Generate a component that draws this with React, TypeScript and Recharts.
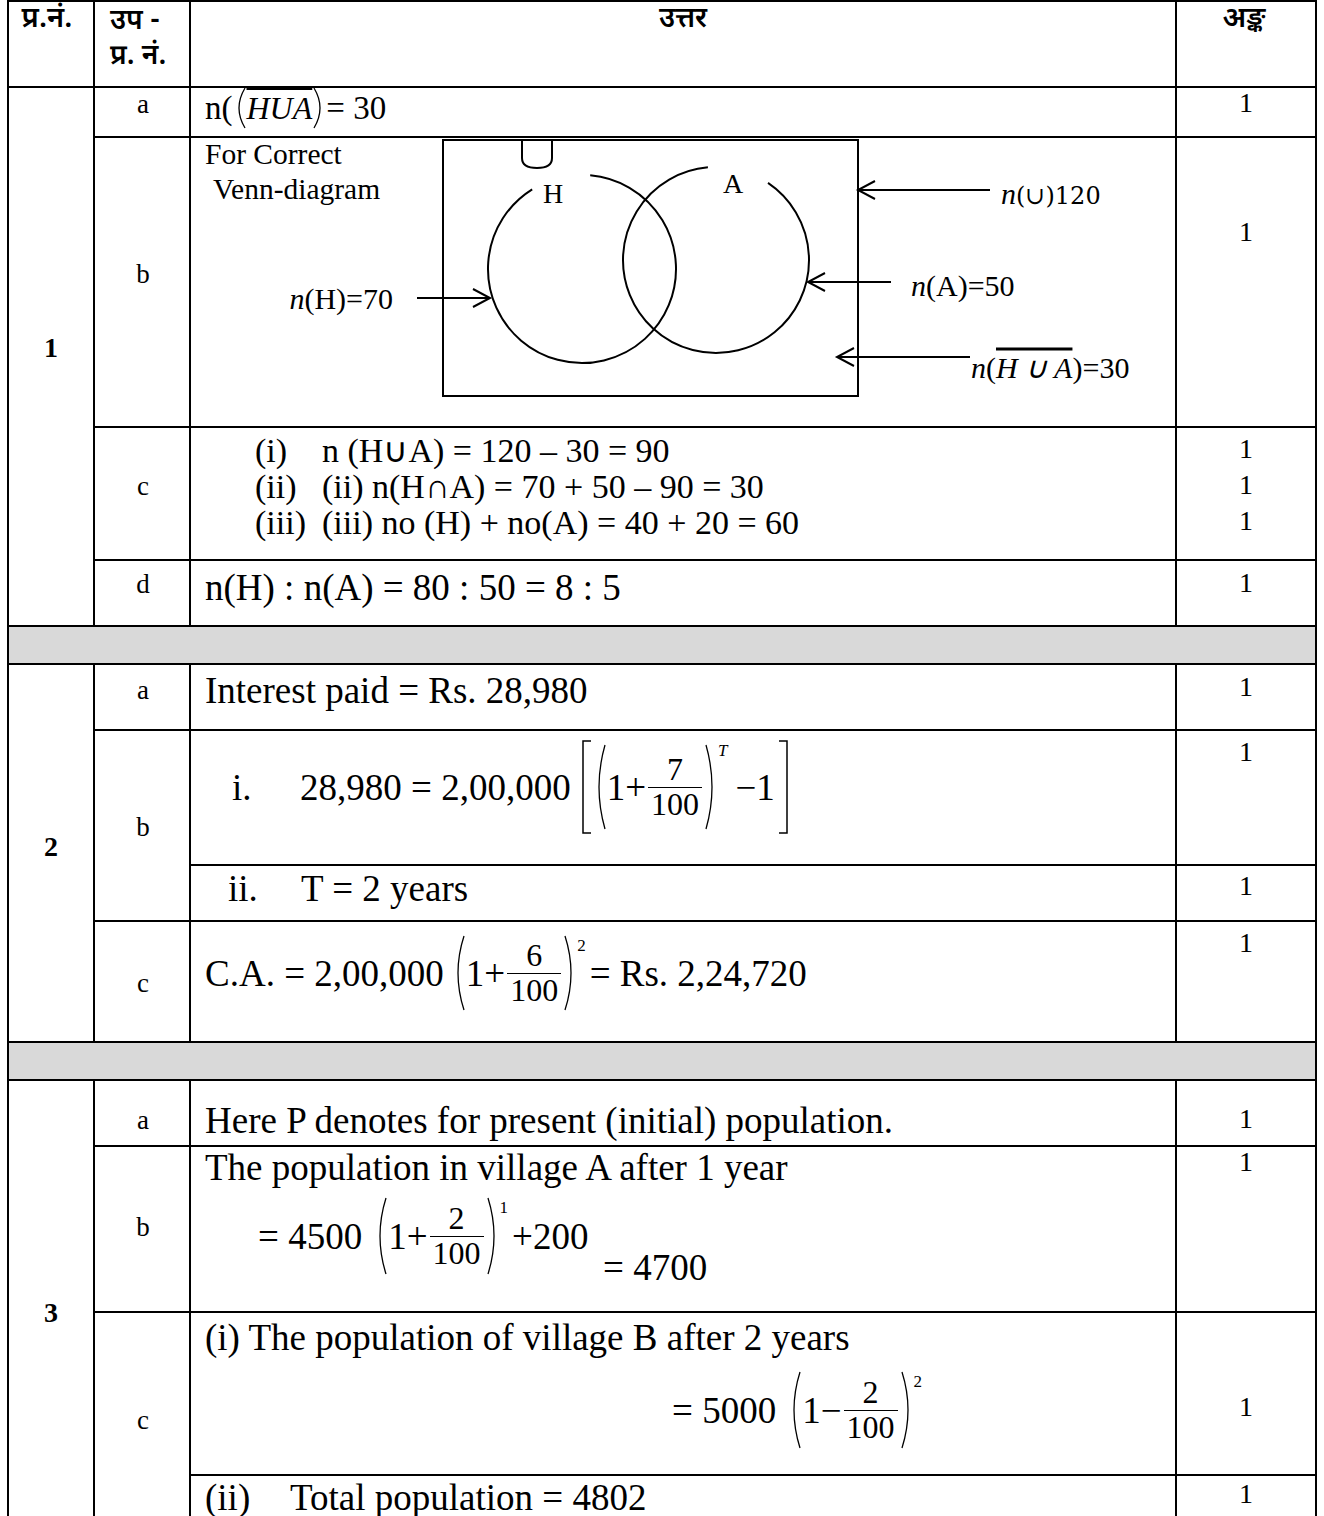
import React from "react";
import {
  ComposedChart,
  XAxis,
  YAxis,
  Scatter,
  ReferenceArea,
  ReferenceDot,
  ReferenceLine,
} from "recharts";

const SERIF = '"Liberation Serif", "Times New Roman", serif';
const DEVA = '"Noto Sans Devanagari", "Lohit Devanagari", "Mangal", "Noto Sans", sans-serif';

// header texts
const HEAD_Q = "प्र.नं.";
const HEAD_SUB = ["उप -", "प्र. नं."];
const HEAD_ANSWER = "उत्तर";
const HEAD_MARKS = "अङ्क";

const QUESTION_NUMBERS = ["1", "2", "3"];
const SUB_PARTS = ["a", "b", "c", "d", "a", "b", "c", "a", "b", "c"];
const MARKS = [1, 1, 1, 1, 1, 1, 1, 1, 1, 1, 1, 1, 1, 1];

// answer texts
const Q1C_LABELS = ["(i)", "(ii)", "(iii)"];
const Q1C_LINES = [
  "n (H∪A) = 120 – 30 = 90",
  "(ii) n(H∩A) = 70 + 50 – 90 = 30",
  "(iii) no (H) + no(A) = 40 + 20 = 60",
];
const Q1D_LINE = "n(H) : n(A) = 80 : 50 = 8 : 5";
const Q2A_LINE = "Interest paid = Rs. 28,980";
const Q2B_ROMAN = ["i.", "ii."];
const Q2B_II_LINE = "T = 2 years";
const Q3A_LINE = "Here P denotes for present (initial) population.";
const Q3B_LINE = "The population in village A after 1 year";
const Q3C_LINE = "(i) The population of village B after 2 years";
const Q3C_II = ["(ii)", "Total population = 4802"];

// formula values
const PRINCIPAL = "2,00,000";
const INTEREST = "28,980";
const RATES = [7, 6];
const AMOUNT = "Rs. 2,24,720";
const POP_A = 4500;
const POP_B = 5000;
const GROWTH = 2;
const MIGRATION = 200;
const POP_A_RESULT = 4700;

// Venn counts
const VENN_SETS = ["H", "A"];
const N_UNIVERSE = 120;
const N_H = 70;
const N_A = 50;
const N_NEITHER = 30;

// ---- layout ----
const XL = 8;
const XC1 = 94;
const XC2 = 190;
const XC3 = 1176;
const XR = 1316;
const H_LINES: [number, number, number][] = [
  [1, XL, XR], [87, XL, XR], [137, XC1, XR], [427, XC1, XR], [560, XC1, XR],
  [626, XL, XR], [664, XL, XR], [730, XC1, XR], [865, XC2, XR], [921, XC1, XR],
  [1042, XL, XR], [1080, XL, XR], [1146, XC1, XR], [1312, XC1, XR], [1475, XC2, XR],
];
const V_SEGS: [number, number][] = [[1, 626], [664, 1042], [1080, 1520]];
const GRAY_BANDS: [number, number][] = [[626, 664], [1042, 1080]];
const SUB_Y = [104, 274, 486, 584, 690, 827, 983, 1120, 1227, 1420];
const QNUM_Y = [348, 847, 1313];
const MARK_Y = [103, 232, 449, 485, 521, 583, 687, 752, 886, 943, 1119, 1162, 1407, 1494];

const Abs = ({ x, y, size = 37, align = "left", font = SERIF, style = {}, children }: any) => (
  <div
    style={{
      position: "absolute",
      left: x,
      top: y,
      transform: `translate(${align === "center" ? "-50%" : "0"}, -50%)`,
      fontFamily: font,
      fontSize: size,
      lineHeight: 1,
      whiteSpace: "nowrap",
      display: "flex",
      alignItems: "center",
      ...style,
    }}
  >
    {children}
  </div>
);

const Paren = ({ side, h = 76 }: { side: "l" | "r"; h?: number }) => (
  <svg width={14} height={h} style={{ display: "block" }}>
    <path
      d={side === "l" ? `M12 1 Q0 ${h / 2} 12 ${h - 1}` : `M2 1 Q14 ${h / 2} 2 ${h - 1}`}
      fill="none"
      stroke="#000"
      strokeWidth={1.3}
    />
  </svg>
);

const Bracket = ({ side, h = 94 }: { side: "l" | "r"; h?: number }) => (
  <svg width={12} height={h} style={{ display: "block" }}>
    <path
      d={side === "l" ? `M10 1 H2 V${h - 1} H10` : `M2 1 H10 V${h - 1} H2`}
      fill="none"
      stroke="#000"
      strokeWidth={1.5}
    />
  </svg>
);

const Frac = ({ num, den, size = 32 }: any) => (
  <span
    style={{
      display: "inline-flex",
      flexDirection: "column",
      alignItems: "center",
      fontSize: size,
      lineHeight: 1.05,
      margin: "0 2px",
    }}
  >
    <span style={{ padding: "0 3px" }}>{num}</span>
    <span style={{ alignSelf: "stretch", borderTop: "1.5px solid #000" }} />
    <span style={{ padding: "0 3px" }}>{den}</span>
  </span>
);

const Sup = ({ children, italic = false }: any) => (
  <span style={{ alignSelf: "flex-start", fontSize: 17, marginTop: 2, fontStyle: italic ? "italic" : "normal" }}>
    {children}
  </span>
);

// ---- Venn diagram (drawn with recharts scales, 1 unit = 1px in the cell) ----
const VW = 985;
const VH = 290;
const UNIVERSE = { x1: 252, x2: 667, y1: 3, y2: 259 };
const CIRCLES = [
  { cx: 391, cy: 132, r: 94, gap: [85, 122] },
  { cx: 525, cy: 123, r: 93, gap: [56, 95] },
];
const SET_LABEL_POS = [
  { x: 362, y: 56 },
  { x: 542, y: 46 },
];
const ARROWS = [
  { from: { x: 799, y: 53 }, to: { x: 667, y: 53 } },
  { from: { x: 700, y: 145 }, to: { x: 617, y: 145 } },
  { from: { x: 779, y: 220 }, to: { x: 646, y: 220 } },
  { from: { x: 226, y: 161 }, to: { x: 299, y: 161 } },
];
const ARROW_LABEL_POS = [
  { x: 810, y: 56, anchor: "start" },
  { x: 720, y: 148, anchor: "start" },
  { x: 780, y: 230, anchor: "start" },
  { x: 202, y: 161, anchor: "end" },
];

function arcPath(cx: number, cy: number, r: number, gapFrom: number, gapTo: number) {
  const a0 = (gapTo * Math.PI) / 180;
  const a1 = ((gapFrom + 360) * Math.PI) / 180;
  const x0 = cx + r * Math.cos(a0);
  const y0 = cy - r * Math.sin(a0);
  const x1 = cx + r * Math.cos(a1);
  const y1 = cy - r * Math.sin(a1);
  return `M${x0} ${y0} A${r} ${r} 0 1 0 ${x1} ${y1}`;
}

const arrowShape = (p: any) => {
  const { x1, y1, x2, y2 } = p;
  const dir = Math.sign(x2 - x1) || 1;
  return (
    <g>
      <line x1={x1} y1={y1} x2={x2} y2={y2} stroke="#000" strokeWidth={2} />
      <path
        d={`M${x2 - dir * 17} ${y2 - 9} L${x2} ${y2} L${x2 - dir * 17} ${y2 + 9}`}
        fill="none"
        stroke="#000"
        strokeWidth={2}
      />
    </g>
  );
};

const ARROW_TEXTS = [
  (
    <>
      <tspan fontStyle="italic">n</tspan>
      <tspan fontFamily='"DejaVu Serif", serif' fontSize={24}>(∪)</tspan>
      <tspan fontFamily='"DejaVu Serif", serif' fontSize={24}>{N_UNIVERSE}</tspan>
    </>
  ),
  (
    <>
      <tspan fontStyle="italic">n</tspan>
      <tspan>(A)={N_A}</tspan>
    </>
  ),
  (
    <>
      <tspan fontStyle="italic">n</tspan>
      <tspan>(</tspan>
      <tspan fontStyle="italic" style={{ textDecoration: "overline" }}>H ∪ A</tspan>
      <tspan>)={N_NEITHER}</tspan>
    </>
  ),
  (
    <>
      <tspan fontStyle="italic">n</tspan>
      <tspan>(H)={N_H}</tspan>
    </>
  ),
];

const labelPoints = [
  ...SET_LABEL_POS.map((p, i) => ({ ...p, kind: "set", idx: i })),
  ...ARROW_LABEL_POS.map((p, i) => ({ ...p, kind: "arrow", idx: i })),
];

const renderLabel = (p: any) => {
  const d = p.payload;
  if (d.kind === "set") {
    return (
      <text x={p.cx} y={p.cy} dy="0.35em" textAnchor="middle" fontFamily={SERIF} fontSize={28}>
        {VENN_SETS[d.idx]}
      </text>
    );
  }
  return (
    <text x={p.cx} y={p.cy} dy="0.35em" textAnchor={d.anchor} fontFamily={SERIF} fontSize={30}>
      {ARROW_TEXTS[d.idx]}
    </text>
  );
};

const VennChart = () => (
  <ComposedChart width={VW} height={VH} margin={{ top: 0, right: 0, bottom: 0, left: 0 }}>
    <XAxis type="number" dataKey="x" domain={[0, VW]} hide />
    <YAxis type="number" dataKey="y" domain={[0, VH]} reversed hide />
    <ReferenceArea
      x1={UNIVERSE.x1}
      x2={UNIVERSE.x2}
      y1={UNIVERSE.y1}
      y2={UNIVERSE.y2}
      fill="none"
      fillOpacity={0}
      stroke="#000"
      strokeWidth={2}
    />
    <ReferenceDot
      x={346}
      y={3}
      r={0}
      shape={(p: any) => (
        <path
          d={`M${p.cx - 15} ${p.cy} V${p.cy + 18} Q${p.cx - 15} ${p.cy + 28} ${p.cx} ${p.cy + 28} Q${p.cx + 15} ${p.cy + 28} ${p.cx + 15} ${p.cy + 18} V${p.cy}`}
          fill="none"
          stroke="#000"
          strokeWidth={2}
        />
      )}
    />
    {CIRCLES.map((c, i) => (
      <ReferenceDot
        key={VENN_SETS[i]}
        x={c.cx}
        y={c.cy}
        r={c.r}
        shape={(p: any) => (
          <path d={arcPath(p.cx, p.cy, c.r, c.gap[0], c.gap[1])} fill="none" stroke="#000" strokeWidth={2} />
        )}
      />
    ))}
    {ARROWS.map((a, i) => (
      <ReferenceLine key={i} segment={[a.from, a.to]} shape={arrowShape} />
    ))}
    <Scatter data={labelPoints} dataKey="y" isAnimationActive={false} shape={renderLabel} />
  </ComposedChart>
);

export default function App() {
  return (
    <div
      style={{
        position: "absolute",
        left: 0,
        top: 0,
        width: 1324,
        height: 1516,
        overflow: "hidden",
        background: "#fff",
        color: "#000",
        fontFamily: SERIF,
      }}
    >
      {GRAY_BANDS.map(([a, b], i) => (
        <div key={"g" + i} style={{ position: "absolute", left: XL, top: a, width: XR - XL, height: b - a, background: "#d9d9d9" }} />
      ))}
      {H_LINES.map(([y, x1, x2], i) => (
        <div key={"h" + i} style={{ position: "absolute", left: x1 - 1, top: y - 1, width: x2 - x1 + 2, height: 2.2, background: "#000" }} />
      ))}
      {[XL, XR].map((x) => (
        <div key={"b" + x} style={{ position: "absolute", left: x - 1, top: 0, width: 2.2, height: 1520, background: "#000" }} />
      ))}
      {[XC1, XC2, XC3].map((x) =>
        V_SEGS.map(([a, b], j) => (
          <div key={"v" + x + j} style={{ position: "absolute", left: x - 1, top: a, width: 2.2, height: b - a, background: "#000" }} />
        ))
      )}

      {/* header */}
      <Abs x={47} y={20} size={29} align="center" font={DEVA} style={{ fontWeight: 600 }}>{HEAD_Q}</Abs>
      <Abs x={110} y={22} size={28} font={DEVA} style={{ fontWeight: 600 }}>{HEAD_SUB[0]}</Abs>
      <Abs x={110} y={57} size={28} font={DEVA} style={{ fontWeight: 600 }}>{HEAD_SUB[1]}</Abs>
      <Abs x={683} y={20} size={28} align="center" font={DEVA} style={{ fontWeight: 600 }}>{HEAD_ANSWER}</Abs>
      <Abs x={1244} y={20} size={29} align="center" font={DEVA} style={{ fontWeight: 600 }}>{HEAD_MARKS}</Abs>

      {/* question numbers and sub parts */}
      {QUESTION_NUMBERS.map((q, i) => (
        <Abs key={"q" + q} x={51} y={QNUM_Y[i]} size={28} align="center" style={{ fontWeight: 700 }}>{q}</Abs>
      ))}
      {SUB_PARTS.map((s, i) => (
        <Abs key={"s" + i} x={143} y={SUB_Y[i]} size={27} align="center">{s}</Abs>
      ))}
      {MARKS.map((m, i) => (
        <Abs key={"m" + i} x={1246} y={MARK_Y[i]} size={28} align="center">{m}</Abs>
      ))}

      {/* 1a */}
      <Abs x={205} y={108} size={33}>
        <span>n(</span>
        <Paren side="l" h={42} />
        <span style={{ fontStyle: "italic", textDecoration: "overline", fontSize: 32 }}>HUA</span>
        <Paren side="r" h={42} />
        <span>= {N_NEITHER}</span>
      </Abs>

      {/* 1b */}
      <Abs x={205} y={155} size={29.5}>For Correct</Abs>
      <Abs x={213} y={190} size={29.5}>Venn-diagram</Abs>
      <div style={{ position: "absolute", left: 191, top: 137 }}>
        <VennChart />
      </div>

      {/* 1c */}
      {Q1C_LABELS.map((l, i) => (
        <Abs key={"c" + i} x={255} y={451 + i * 36} size={34} style={{ lineHeight: 0.8 }}>{l}</Abs>
      ))}
      {Q1C_LINES.map((l, i) => (
        <Abs key={"cl" + i} x={322} y={451 + i * 36} size={34} style={{ lineHeight: 0.8 }}>{l}</Abs>
      ))}

      {/* 1d */}
      <Abs x={205} y={587}>{Q1D_LINE}</Abs>

      {/* 2a */}
      <Abs x={205} y={690}>{Q2A_LINE}</Abs>

      {/* 2b */}
      <Abs x={232} y={787}>{Q2B_ROMAN[0]}</Abs>
      <Abs x={300} y={787}>
        <span style={{ marginRight: 10 }}>{INTEREST} = {PRINCIPAL}</span>
        <Bracket side="l" h={94} />
        <Paren side="l" h={86} />
        <span>1+</span>
        <Frac num={RATES[0]} den={100} />
        <Paren side="r" h={86} />
        <Sup italic>T</Sup>
        <span style={{ marginLeft: 8, marginRight: 2 }}>−1</span>
        <Bracket side="r" h={94} />
      </Abs>
      <Abs x={228} y={888}>{Q2B_ROMAN[1]}</Abs>
      <Abs x={301} y={888}>{Q2B_II_LINE}</Abs>

      {/* 2c */}
      <Abs x={205} y={973}>
        <span style={{ marginRight: 8 }}>C.A. = {PRINCIPAL}</span>
        <Paren side="l" h={76} />
        <span>1+</span>
        <Frac num={RATES[1]} den={100} />
        <Paren side="r" h={76} />
        <Sup>2</Sup>
        <span style={{ marginLeft: 4 }}>= {AMOUNT}</span>
      </Abs>

      {/* 3a */}
      <Abs x={205} y={1120}>{Q3A_LINE}</Abs>

      {/* 3b */}
      <Abs x={205} y={1167}>{Q3B_LINE}</Abs>
      <Abs x={258} y={1236}>
        <span style={{ marginRight: 12 }}>= {POP_A}</span>
        <Paren side="l" h={78} />
        <span>1+</span>
        <Frac num={GROWTH} den={100} />
        <Paren side="r" h={78} />
        <Sup>1</Sup>
        <span style={{ marginLeft: 4 }}>+{MIGRATION}</span>
      </Abs>
      <Abs x={603} y={1267}>= {POP_A_RESULT}</Abs>

      {/* 3c */}
      <Abs x={205} y={1337}>{Q3C_LINE}</Abs>
      <Abs x={672} y={1410}>
        <span style={{ marginRight: 12 }}>= {POP_B}</span>
        <Paren side="l" h={78} />
        <span>1−</span>
        <Frac num={GROWTH} den={100} />
        <Paren side="r" h={78} />
        <Sup>2</Sup>
      </Abs>
      <Abs x={205} y={1497}>{Q3C_II[0]}</Abs>
      <Abs x={290} y={1497}>{Q3C_II[1]}</Abs>
    </div>
  );
}
